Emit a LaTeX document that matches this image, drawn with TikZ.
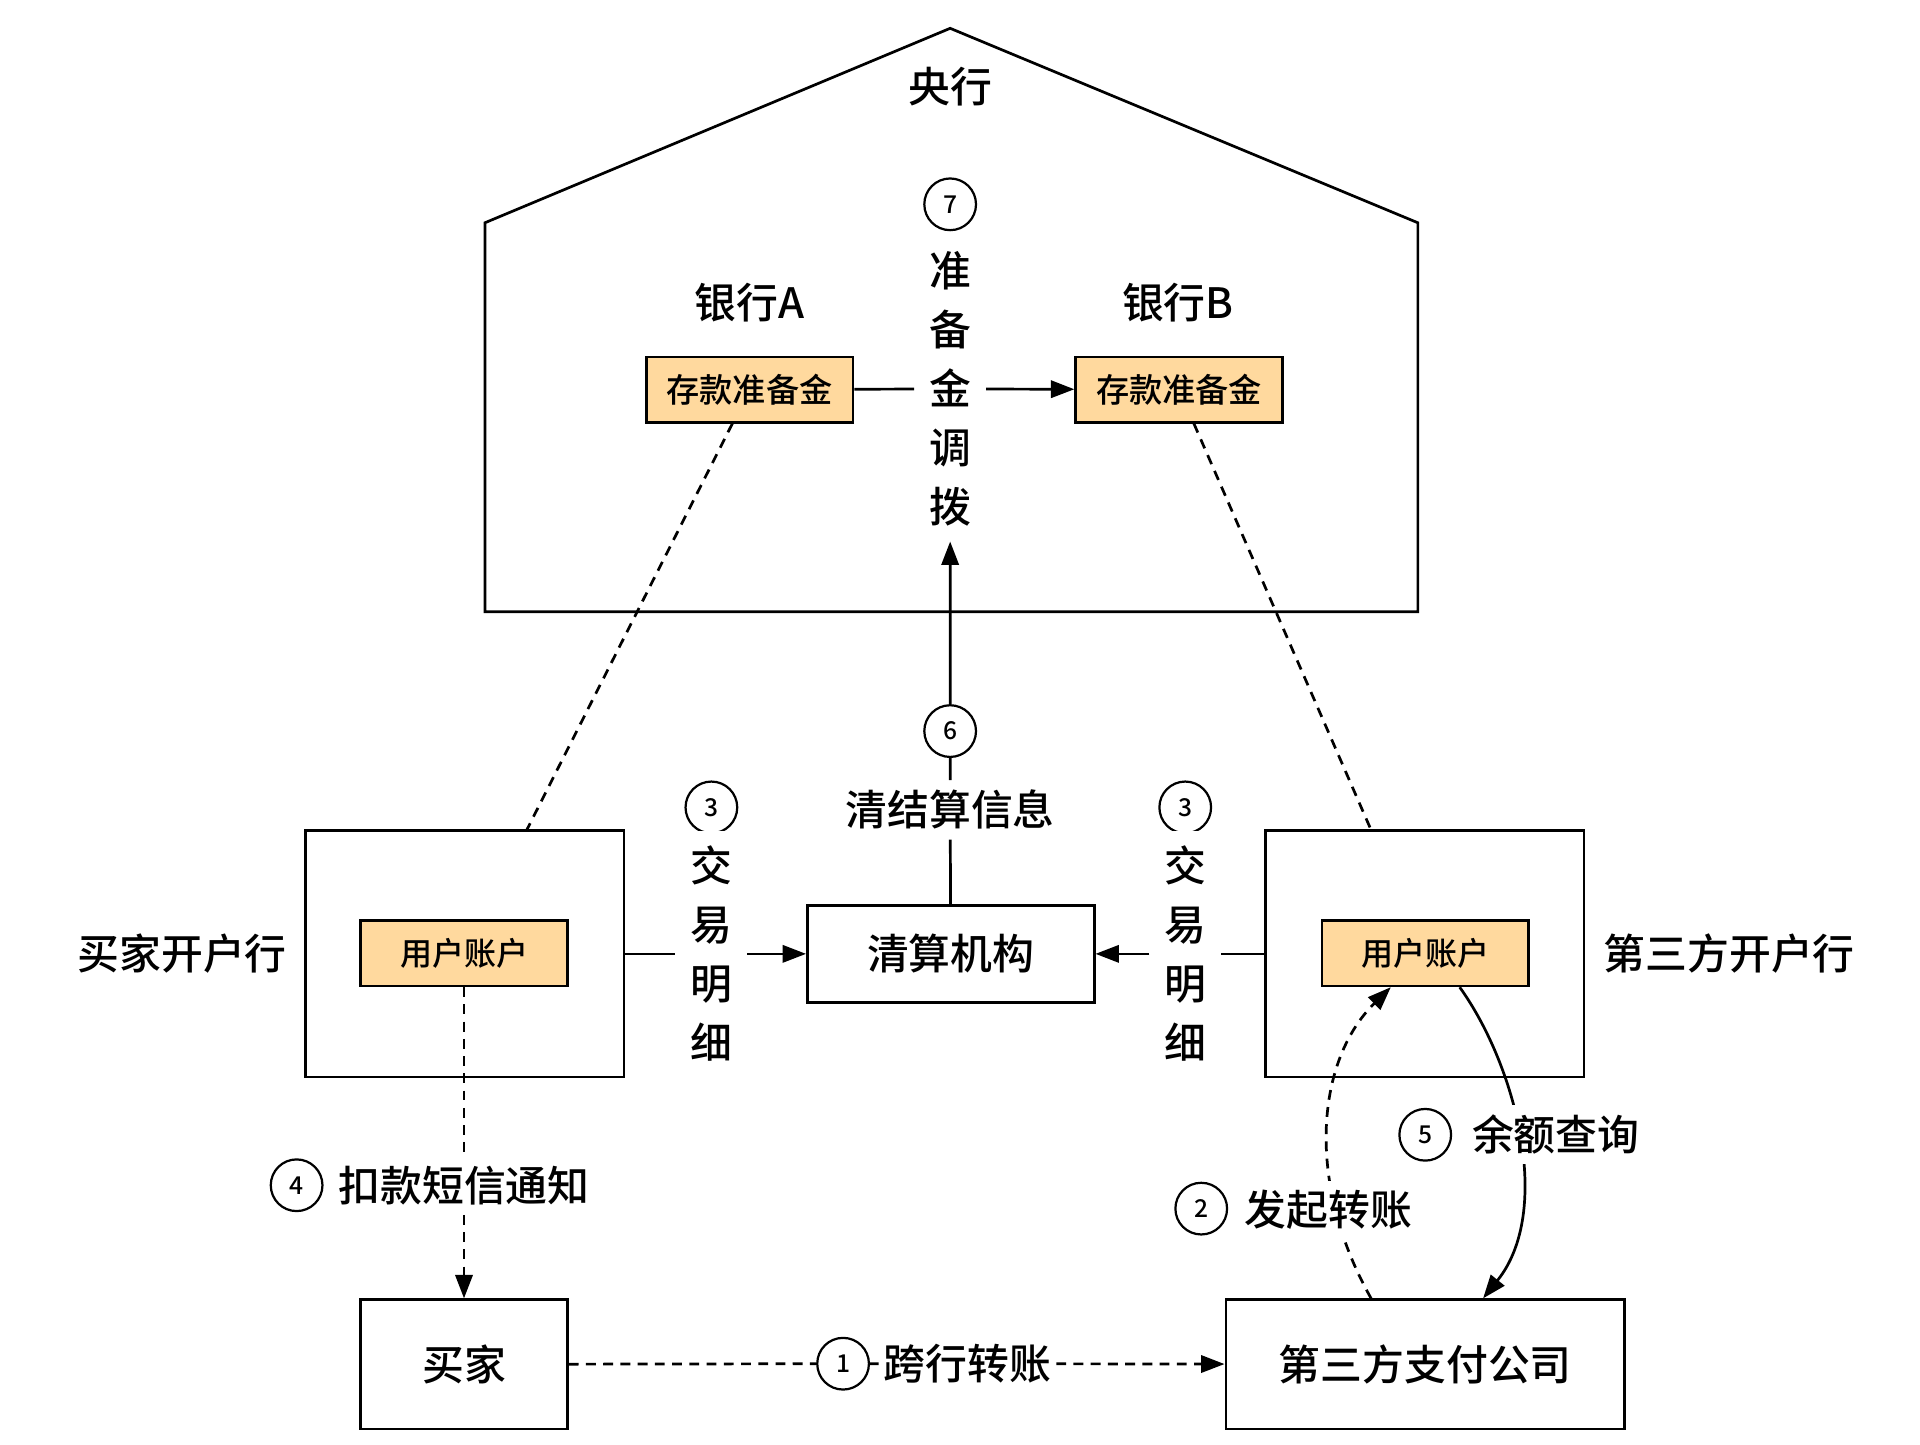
\documentclass[tikz,border=0pt]{standalone}
\usepackage{fontspec}
\setmainfont{Noto Sans CJK SC}[UprightFont=* Medium]
\usetikzlibrary{arrows.meta}
\definecolor{acct}{RGB}{255,217,158}
\tikzset{
  link/.style={line width=2.2pt},
  arrow/.style={link,-{Triangle[length=19pt,width=14pt]}},
  dashlink/.style={link,dash pattern=on 8pt off 6pt},
  dasharrow/.style={dashlink,-{Triangle[length=19pt,width=14pt]}},
  txt/.style={inner sep=0pt,font=\fontsize{34}{40}\selectfont},
  lbl/.style={fill=white,inner sep=8pt,font=\fontsize{34}{40}\selectfont},
  vlbl/.style={fill=white,inner sep=12pt,align=center,font=\fontsize{34}{48}\selectfont},
  box/.style={draw,line width=2.2pt,inner sep=0pt,font=\fontsize{34}{40}\selectfont},
  account/.style={box,fill=acct,minimum width=168pt,minimum height=53pt,font=\fontsize{26}{30}\selectfont},
  num/.style={circle,draw,fill=white,line width=1.8pt,minimum size=42pt,inner sep=0pt,font=\fontsize{20}{24}\selectfont}
}
\begin{document}
\begin{tikzpicture}[x=1pt,y=-1pt]
  \useasboundingbox
    (0,0)
    rectangle
    (1560,1173.3);
  \draw[link,line join=miter]
    (394,497)
    --
    (394,181)
    --
    (772,23)
    --
    (1152,181)
    --
    (1152,497)
    --
    cycle;
  \node[txt] (pboc) at (772,70) {央行};
  \node[txt] (bankA) at (609,246) {银行A};
  \node[txt] (bankB) at (957,246) {银行B};
  \node[account,font=\fontsize{27}{30}\selectfont] (resA) at (609,316.5) {存款准备金};
  \node[account,font=\fontsize{27}{30}\selectfont] (resB) at (958,316.5) {存款准备金};
  \node[num] (n7) at (772,166) {7};
  \node[vlbl] (move) at (772,316) {准\\备\\金\\调\\拨};
  \node[box,minimum width=259pt,minimum height=200pt] (buyerbank) at (377.5,775) {};
  \node[box,minimum width=259pt,minimum height=200pt] (sellerbank) at (1157.5,775) {};
  \node[account] (accA) at (377,774.5) {用户账户};
  \node[account] (accB) at (1158,774.5) {用户账户};
  \node[txt] (buyerbanklbl) at (148,775) {买家开户行};
  \node[txt] (sellerbanklbl) at (1405,775) {第三方开户行};
  \node[box,minimum width=233pt,minimum height=79pt] (clear) at (772.5,775) {清算机构};
  \node[box,minimum width=168pt,minimum height=105pt] (buyer) at (377,1108.5) {买家};
  \node[box,minimum width=324pt,minimum height=105pt] (pay) at (1158,1108.5) {第三方支付公司};
  \node[num] (n6) at (772,594) {6};
  \node[lbl] (settle) at (772,658) {清结算信息};
  \node[num] (n3a) at (578,656) {3};
  \node[vlbl] (detailA) at (578,775) {交\\易\\明\\细};
  \node[num] (n3b) at (963,656) {3};
  \node[vlbl] (detailB) at (963,775) {交\\易\\明\\细};
  \node[num] (n4) at (241,963) {4};
  \node[lbl] (sms) at (377,963) {扣款短信通知};
  \node[num] (n1) at (685,1108) {1};
  \node[lbl,inner sep=4pt] (cross) at (786,1108) {跨行转账};
  \node[num] (n2) at (976,982) {2};
  \node[num] (n5) at (1158,922) {5};
  \draw[arrow]
    (resA)
    --
    (move)
    --
    (resB);
  \draw[arrow]
    (clear)
    --
    (settle)
    --
    (n6)
    --
    (move);
  \draw[dashlink]
    (resA)
    --
    (buyerbank);
  \draw[dashlink]
    (resB)
    --
    (sellerbank);
  \draw[arrow]
    (buyerbank)
    --
    (detailA)
    --
    (clear);
  \draw[arrow]
    (sellerbank)
    --
    (detailB)
    --
    (clear);
  \draw[dasharrow]
    (accA)
    --
    (sms)
    --
    (buyer);
  \draw[dasharrow]
    (buyer)
    --
    (n1)
    --
    (cross)
    --
    (pay);
  \draw[dasharrow]
    ([xshift=-44pt]pay.north)
    .. controls +(-54,-96) and +(-60,59) ..
    ([xshift=-28pt]accB.south)
    node[lbl,pos=0.25,xshift=-6pt] (launch) {发起转账};
  \draw[arrow]
    ([xshift=28pt]accB.south)
    .. controls +(46,64) and +(57,-71) ..
    ([xshift=47pt]pay.north);
  \node[lbl] (balance) at (1264,922) {余额查询};
\end{tikzpicture}
\end{document}
